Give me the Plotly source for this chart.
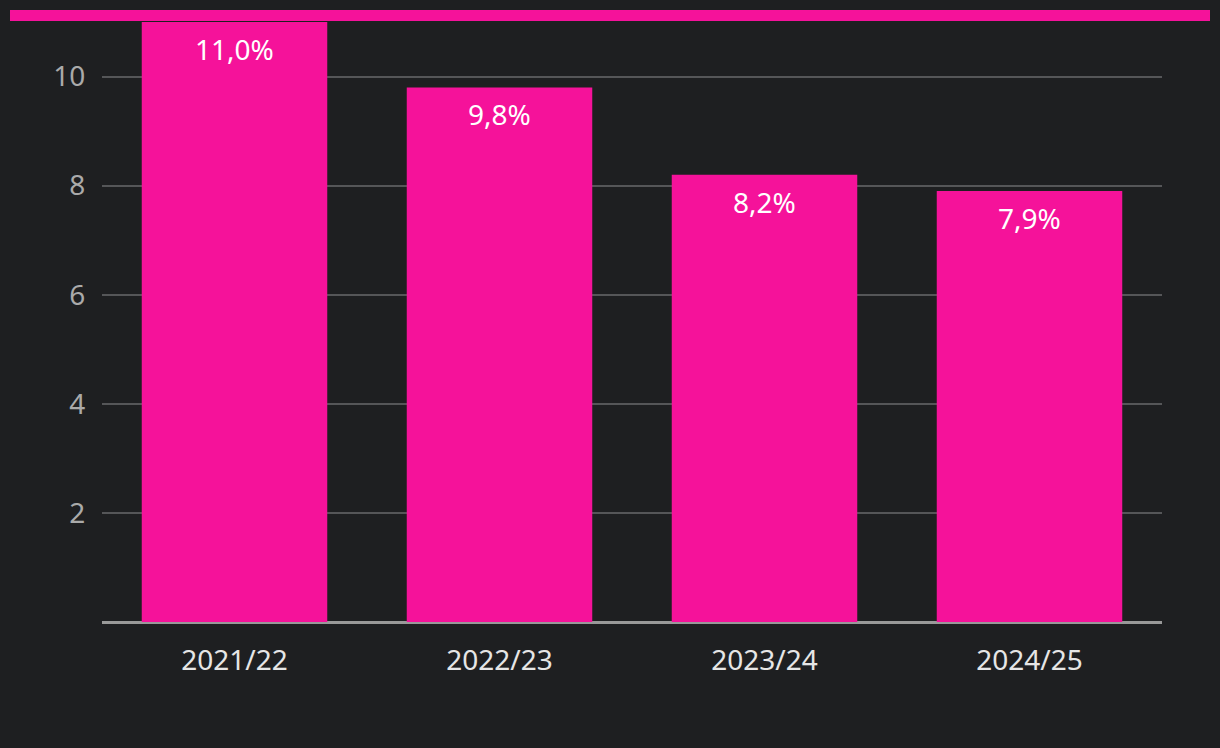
import plotly.graph_objects as go

categories = ["2021/22", "2022/23", "2023/24", "2024/25"]
values = [11.0, 9.8, 8.2, 7.9]
labels = ["11,0%", "9,8%", "8,2%", "7,9%"]
y_ticks = [2, 4, 6, 8, 10]

BG = "#1e1f21"
PINK = "#f5129a"
FONT = "Noto Sans"

fig = go.Figure()
fig.add_trace(go.Bar(
    x=categories, y=values,
    marker=dict(color=PINK, line=dict(width=0)),
    hoverinfo="skip",
))

for c, v, t in zip(categories, values, labels):
    fig.add_annotation(x=c, y=v, text=t, showarrow=False, yanchor="top",
                       yshift=-6, font=dict(family=FONT, size=28, color="#ffffff"))

W, H = 1220, 748
l, r, t, b = 102, 58, 22, 126
pw, ph = W - l - r, H - t - b
fig.add_shape(type="rect", xref="paper", yref="paper",
              x0=(10 - l) / pw, x1=(1210 - l) / pw,
              y0=(H - b - 21) / ph, y1=(H - b - 10) / ph,
              fillcolor=PINK, line=dict(width=0), layer="above")

fig.update_layout(
    width=W, height=H,
    margin=dict(l=l, r=r, t=t, b=b),
    paper_bgcolor=BG, plot_bgcolor=BG,
    bargap=0.30,
    showlegend=False,
    font=dict(family=FONT),
    xaxis=dict(
        showgrid=False, showline=False, zeroline=False,
        ticks="outside", ticklen=13, tickcolor="rgba(0,0,0,0)",
        tickfont=dict(family=FONT, size=28, color="#e6e6e6"),
        fixedrange=True,
    ),
    yaxis=dict(
        range=[0, 11], tickvals=y_ticks,
        showgrid=True, gridcolor="#555658", gridwidth=1.5,
        zeroline=True, zerolinecolor="#999999", zerolinewidth=3,
        showline=False,
        ticks="outside", ticklen=10, tickcolor="rgba(0,0,0,0)",
        tickfont=dict(family=FONT, size=28, color="#aaaaaa"),
        fixedrange=True,
    ),
)

fig.write_html("out.html", config={"displayModeBar": False},
               post_script="document.body.style.margin='0';document.body.style.background='%s';" % BG)
